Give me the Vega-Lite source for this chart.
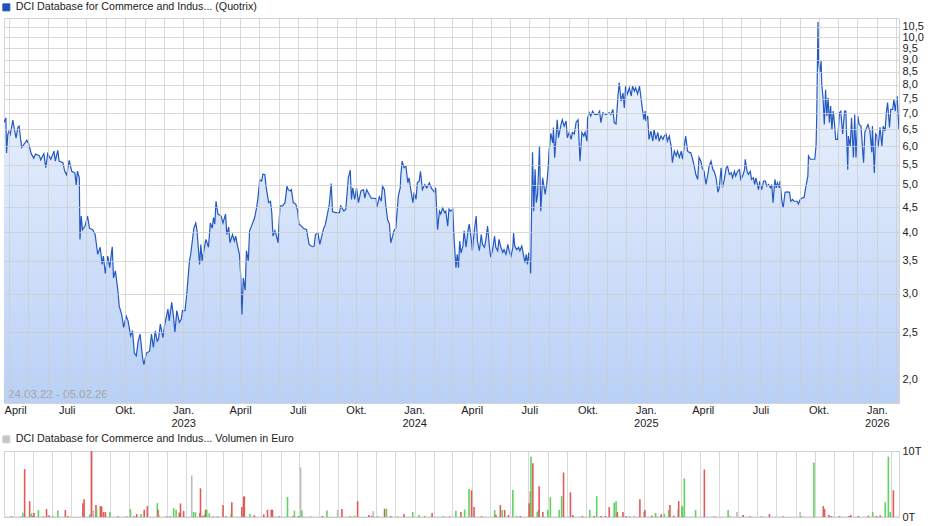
{
  "$schema": "https://vega.github.io/schema/vega-lite/v6.json",
  "padding": {"left": 0, "top": 1, "right": 5, "bottom": 2},
  "bounds": "flush",
  "spacing": 48,
  "config": {
    "font": "Liberation Sans",
    "view": {"stroke": "#d4d4d4"},
    "axis": {"labelFont": "Liberation Sans", "labelFontSize": 11, "labelColor": "#222222", "ticks": false, "domain": false, "gridColor": "#cccccc", "gridOpacity": 0.75, "title": null}
  },
  "resolve": {"scale": {"stroke": "independent", "color": "independent"}, "legend": {"stroke": "independent", "color": "independent"}},
  "datasets": {
    "price": [
      {"date":"2022-03-24","close":6.70},{"date":"2022-03-27","close":6.85},{"date":"2022-03-28","close":5.81},{"date":"2022-03-30","close":6.34},
      {"date":"2022-04-01","close":6.44},{"date":"2022-04-03","close":6.34},{"date":"2022-04-07","close":6.78},{"date":"2022-04-08","close":6.65},
      {"date":"2022-04-12","close":6.23},{"date":"2022-04-15","close":6.56},{"date":"2022-04-17","close":6.59},{"date":"2022-04-19","close":6.24},
      {"date":"2022-04-21","close":5.96},{"date":"2022-04-25","close":6.06},{"date":"2022-04-29","close":6.17},{"date":"2022-05-02","close":6.06},
      {"date":"2022-05-06","close":5.79},{"date":"2022-05-10","close":5.67},{"date":"2022-05-13","close":5.78},{"date":"2022-05-19","close":5.73},
      {"date":"2022-05-21","close":5.62},{"date":"2022-05-26","close":5.79},{"date":"2022-05-29","close":5.42},{"date":"2022-06-01","close":5.79},
      {"date":"2022-06-06","close":5.64},{"date":"2022-06-11","close":5.86},{"date":"2022-06-13","close":5.59},{"date":"2022-06-17","close":5.88},
      {"date":"2022-06-19","close":5.59},{"date":"2022-06-25","close":5.55},{"date":"2022-06-28","close":5.33},{"date":"2022-07-01","close":5.24},
      {"date":"2022-07-05","close":5.61},{"date":"2022-07-09","close":5.33},{"date":"2022-07-14","close":5.29},{"date":"2022-07-16","close":5.00},
      {"date":"2022-07-18","close":5.33},{"date":"2022-07-21","close":5.17},{"date":"2022-07-22","close":3.87},{"date":"2022-07-24","close":4.32},
      {"date":"2022-07-26","close":4.05},{"date":"2022-07-30","close":4.12},{"date":"2022-08-03","close":4.32},{"date":"2022-08-06","close":4.08},
      {"date":"2022-08-11","close":4.05},{"date":"2022-08-15","close":3.96},{"date":"2022-08-19","close":3.61},{"date":"2022-08-23","close":3.73},
      {"date":"2022-08-26","close":3.44},{"date":"2022-08-28","close":3.58},{"date":"2022-08-31","close":3.30},{"date":"2022-09-04","close":3.58},
      {"date":"2022-09-07","close":3.39},{"date":"2022-09-11","close":3.74},{"date":"2022-09-13","close":3.23},{"date":"2022-09-16","close":3.34},
      {"date":"2022-09-20","close":3.04},{"date":"2022-09-22","close":2.83},{"date":"2022-09-26","close":2.72},{"date":"2022-09-29","close":2.56},
      {"date":"2022-10-03","close":2.70},{"date":"2022-10-06","close":2.64},{"date":"2022-10-10","close":2.46},{"date":"2022-10-13","close":2.52},
      {"date":"2022-10-16","close":2.27},{"date":"2022-10-19","close":2.24},{"date":"2022-10-22","close":2.40},{"date":"2022-10-25","close":2.48},
      {"date":"2022-10-29","close":2.22},{"date":"2022-10-31","close":2.15},{"date":"2022-11-04","close":2.27},{"date":"2022-11-09","close":2.29},
      {"date":"2022-11-12","close":2.48},{"date":"2022-11-15","close":2.33},{"date":"2022-11-18","close":2.52},{"date":"2022-11-21","close":2.40},
      {"date":"2022-11-23","close":2.42},{"date":"2022-11-26","close":2.60},{"date":"2022-11-30","close":2.44},{"date":"2022-12-03","close":2.60},
      {"date":"2022-12-08","close":2.79},{"date":"2022-12-10","close":2.64},{"date":"2022-12-14","close":2.88},{"date":"2022-12-17","close":2.68},
      {"date":"2022-12-19","close":2.50},{"date":"2022-12-22","close":2.77},{"date":"2022-12-26","close":2.62},{"date":"2022-12-29","close":2.66},
      {"date":"2022-12-31","close":2.77},{"date":"2023-01-04","close":2.77},{"date":"2023-01-07","close":3.02},{"date":"2023-01-11","close":3.50},
      {"date":"2023-01-13","close":3.61},{"date":"2023-01-18","close":4.08},{"date":"2023-01-21","close":4.18},{"date":"2023-01-23","close":4.03},
      {"date":"2023-01-27","close":3.44},{"date":"2023-01-29","close":3.78},{"date":"2023-01-31","close":3.50},{"date":"2023-02-03","close":3.69},
      {"date":"2023-02-06","close":3.87},{"date":"2023-02-10","close":3.73},{"date":"2023-02-13","close":4.18},{"date":"2023-02-16","close":4.08},
      {"date":"2023-02-18","close":4.29},{"date":"2023-02-20","close":4.16},{"date":"2023-02-22","close":4.63},{"date":"2023-02-25","close":4.36},
      {"date":"2023-03-02","close":4.32},{"date":"2023-03-05","close":4.18},{"date":"2023-03-09","close":4.36},{"date":"2023-03-11","close":3.96},
      {"date":"2023-03-14","close":4.10},{"date":"2023-03-16","close":3.81},{"date":"2023-03-20","close":3.96},{"date":"2023-03-23","close":3.84},
      {"date":"2023-03-25","close":3.93},{"date":"2023-03-28","close":3.75},{"date":"2023-03-31","close":3.61},{"date":"2023-04-02","close":3.26},
      {"date":"2023-04-04","close":2.72},{"date":"2023-04-06","close":3.23},{"date":"2023-04-09","close":3.05},{"date":"2023-04-11","close":3.67},
      {"date":"2023-04-14","close":3.50},{"date":"2023-04-16","close":4.03},{"date":"2023-04-19","close":4.12},{"date":"2023-04-22","close":4.22},
      {"date":"2023-04-24","close":4.29},{"date":"2023-04-27","close":4.49},{"date":"2023-04-29","close":4.67},{"date":"2023-05-02","close":5.12},
      {"date":"2023-05-05","close":5.09},{"date":"2023-05-07","close":5.26},{"date":"2023-05-10","close":5.25},{"date":"2023-05-12","close":4.97},
      {"date":"2023-05-16","close":4.60},{"date":"2023-05-19","close":4.63},{"date":"2023-05-21","close":4.40},{"date":"2023-05-23","close":3.93},
      {"date":"2023-05-26","close":4.03},{"date":"2023-05-29","close":3.91},{"date":"2023-05-31","close":3.81},{"date":"2023-06-03","close":4.53},
      {"date":"2023-06-07","close":4.53},{"date":"2023-06-11","close":4.60},{"date":"2023-06-14","close":4.97},{"date":"2023-06-16","close":4.89},
      {"date":"2023-06-19","close":4.86},{"date":"2023-06-21","close":4.89},{"date":"2023-06-24","close":4.60},{"date":"2023-06-28","close":4.57},
      {"date":"2023-07-01","close":4.42},{"date":"2023-07-03","close":4.16},{"date":"2023-07-07","close":4.12},{"date":"2023-07-10","close":4.08},
      {"date":"2023-07-15","close":4.05},{"date":"2023-07-19","close":3.78},{"date":"2023-07-24","close":3.74},{"date":"2023-07-27","close":3.75},
      {"date":"2023-07-29","close":3.96},{"date":"2023-08-02","close":3.99},{"date":"2023-08-05","close":3.78},{"date":"2023-08-08","close":3.93},
      {"date":"2023-08-11","close":4.08},{"date":"2023-08-13","close":4.12},{"date":"2023-08-16","close":4.29},{"date":"2023-08-20","close":4.57},
      {"date":"2023-08-23","close":5.03},{"date":"2023-08-25","close":4.41},{"date":"2023-08-30","close":4.39},{"date":"2023-09-05","close":4.39},
      {"date":"2023-09-07","close":4.53},{"date":"2023-09-12","close":4.42},{"date":"2023-09-15","close":4.46},{"date":"2023-09-19","close":5.17},
      {"date":"2023-09-22","close":5.36},{"date":"2023-09-24","close":4.67},{"date":"2023-09-26","close":4.93},{"date":"2023-09-29","close":4.67},
      {"date":"2023-10-02","close":4.93},{"date":"2023-10-05","close":4.60},{"date":"2023-10-09","close":4.86},{"date":"2023-10-13","close":4.89},
      {"date":"2023-10-15","close":4.70},{"date":"2023-10-18","close":4.89},{"date":"2023-10-22","close":4.78},{"date":"2023-10-25","close":4.70},
      {"date":"2023-11-02","close":4.69},{"date":"2023-11-03","close":4.50},{"date":"2023-11-07","close":4.73},{"date":"2023-11-10","close":4.63},
      {"date":"2023-11-12","close":4.97},{"date":"2023-11-15","close":4.89},{"date":"2023-11-17","close":4.57},{"date":"2023-11-20","close":4.25},
      {"date":"2023-11-23","close":4.16},{"date":"2023-11-25","close":3.81},{"date":"2023-11-28","close":3.93},{"date":"2023-11-30","close":4.03},
      {"date":"2023-12-03","close":4.08},{"date":"2023-12-07","close":4.75},{"date":"2023-12-10","close":4.93},{"date":"2023-12-11","close":5.24},
      {"date":"2023-12-13","close":5.59},{"date":"2023-12-16","close":5.42},{"date":"2023-12-19","close":5.46},{"date":"2023-12-22","close":5.05},
      {"date":"2023-12-24","close":5.17},{"date":"2023-12-27","close":4.86},{"date":"2023-12-30","close":4.60},{"date":"2024-01-01","close":4.83},
      {"date":"2024-01-04","close":4.67},{"date":"2024-01-06","close":5.05},{"date":"2024-01-09","close":5.09},{"date":"2024-01-11","close":5.33},
      {"date":"2024-01-14","close":4.89},{"date":"2024-01-18","close":5.01},{"date":"2024-01-21","close":4.93},{"date":"2024-01-25","close":5.05},
      {"date":"2024-01-28","close":4.93},{"date":"2024-01-30","close":4.89},{"date":"2024-02-02","close":4.83},{"date":"2024-02-04","close":4.93},
      {"date":"2024-02-07","close":4.05},{"date":"2024-02-10","close":4.42},{"date":"2024-02-12","close":4.36},{"date":"2024-02-15","close":4.49},
      {"date":"2024-02-18","close":4.39},{"date":"2024-02-20","close":4.42},{"date":"2024-02-23","close":4.12},{"date":"2024-02-25","close":4.46},
      {"date":"2024-02-28","close":4.42},{"date":"2024-03-02","close":4.46},{"date":"2024-03-04","close":3.90},{"date":"2024-03-07","close":3.39},
      {"date":"2024-03-09","close":3.61},{"date":"2024-03-11","close":3.39},{"date":"2024-03-13","close":3.84},{"date":"2024-03-15","close":3.63},
      {"date":"2024-03-18","close":3.75},{"date":"2024-03-20","close":4.03},{"date":"2024-03-23","close":3.73},{"date":"2024-03-26","close":4.03},
      {"date":"2024-03-28","close":4.16},{"date":"2024-03-31","close":3.90},{"date":"2024-04-02","close":3.67},{"date":"2024-04-05","close":4.03},
      {"date":"2024-04-08","close":4.32},{"date":"2024-04-10","close":3.84},{"date":"2024-04-13","close":3.67},{"date":"2024-04-16","close":3.96},
      {"date":"2024-04-18","close":3.78},{"date":"2024-04-21","close":3.73},{"date":"2024-04-23","close":3.84},{"date":"2024-04-26","close":4.12},
      {"date":"2024-04-29","close":3.73},{"date":"2024-05-01","close":3.56},{"date":"2024-05-04","close":3.69},{"date":"2024-05-07","close":3.93},
      {"date":"2024-05-09","close":3.73},{"date":"2024-05-12","close":3.67},{"date":"2024-05-14","close":3.87},{"date":"2024-05-17","close":3.73},
      {"date":"2024-05-20","close":3.64},{"date":"2024-05-22","close":3.69},{"date":"2024-05-25","close":3.61},{"date":"2024-05-28","close":3.78},
      {"date":"2024-05-30","close":3.67},{"date":"2024-06-02","close":3.58},{"date":"2024-06-05","close":3.73},{"date":"2024-06-06","close":3.99},
      {"date":"2024-06-08","close":3.75},{"date":"2024-06-11","close":3.69},{"date":"2024-06-14","close":3.73},{"date":"2024-06-16","close":3.67},
      {"date":"2024-06-19","close":3.75},{"date":"2024-06-21","close":3.64},{"date":"2024-06-24","close":3.47},{"date":"2024-06-26","close":3.61},
      {"date":"2024-06-28","close":3.44},{"date":"2024-06-30","close":3.64},{"date":"2024-07-03","close":3.30},{"date":"2024-07-06","close":5.83},
      {"date":"2024-07-08","close":4.42},{"date":"2024-07-10","close":5.38},{"date":"2024-07-12","close":4.60},{"date":"2024-07-14","close":4.78},
      {"date":"2024-07-17","close":6.00},{"date":"2024-07-19","close":4.42},{"date":"2024-07-22","close":5.17},{"date":"2024-07-26","close":4.78},
      {"date":"2024-07-29","close":5.09},{"date":"2024-07-31","close":5.50},{"date":"2024-08-01","close":5.83},{"date":"2024-08-04","close":6.37},
      {"date":"2024-08-07","close":6.09},{"date":"2024-08-08","close":6.55},{"date":"2024-08-10","close":5.68},{"date":"2024-08-14","close":6.79},
      {"date":"2024-08-16","close":6.24},{"date":"2024-08-20","close":6.63},{"date":"2024-08-22","close":6.79},{"date":"2024-08-25","close":6.59},
      {"date":"2024-08-28","close":6.75},{"date":"2024-08-30","close":6.24},{"date":"2024-09-02","close":6.40},{"date":"2024-09-05","close":6.19},
      {"date":"2024-09-07","close":6.40},{"date":"2024-09-10","close":6.35},{"date":"2024-09-13","close":6.72},{"date":"2024-09-16","close":6.79},
      {"date":"2024-09-19","close":5.59},{"date":"2024-09-22","close":6.40},{"date":"2024-09-25","close":6.29},{"date":"2024-09-27","close":6.40},
      {"date":"2024-09-30","close":6.14},{"date":"2024-10-01","close":6.85},{"date":"2024-10-04","close":7.02},{"date":"2024-10-06","close":6.91},
      {"date":"2024-10-09","close":7.07},{"date":"2024-10-12","close":6.96},{"date":"2024-10-17","close":6.96},{"date":"2024-10-20","close":7.07},
      {"date":"2024-10-22","close":6.70},{"date":"2024-10-25","close":7.02},{"date":"2024-10-30","close":6.96},{"date":"2024-11-04","close":7.02},
      {"date":"2024-11-07","close":6.96},{"date":"2024-11-10","close":7.13},{"date":"2024-11-12","close":6.70},{"date":"2024-11-15","close":6.66},
      {"date":"2024-11-18","close":7.59},{"date":"2024-11-20","close":8.09},{"date":"2024-11-23","close":7.41},{"date":"2024-11-26","close":7.70},
      {"date":"2024-11-28","close":7.18},{"date":"2024-11-30","close":7.95},{"date":"2024-12-03","close":7.66},{"date":"2024-12-06","close":7.89},
      {"date":"2024-12-09","close":7.59},{"date":"2024-12-11","close":7.95},{"date":"2024-12-14","close":7.77},{"date":"2024-12-16","close":7.89},
      {"date":"2024-12-19","close":7.66},{"date":"2024-12-22","close":7.95},{"date":"2024-12-24","close":7.59},{"date":"2024-12-26","close":7.24},
      {"date":"2024-12-29","close":6.79},{"date":"2024-12-31","close":7.07},{"date":"2025-01-01","close":6.75},{"date":"2025-01-04","close":6.91},
      {"date":"2025-01-06","close":6.19},{"date":"2025-01-09","close":6.44},{"date":"2025-01-12","close":6.14},{"date":"2025-01-14","close":6.48},
      {"date":"2025-01-17","close":6.19},{"date":"2025-01-20","close":6.40},{"date":"2025-01-22","close":6.14},{"date":"2025-01-25","close":6.29},
      {"date":"2025-01-28","close":6.19},{"date":"2025-01-30","close":6.29},{"date":"2025-02-02","close":6.35},{"date":"2025-02-04","close":6.14},
      {"date":"2025-02-07","close":6.29},{"date":"2025-02-10","close":6.00},{"date":"2025-02-12","close":5.55},{"date":"2025-02-15","close":5.86},
      {"date":"2025-02-18","close":5.73},{"date":"2025-02-20","close":5.86},{"date":"2025-02-23","close":5.69},{"date":"2025-02-26","close":5.86},
      {"date":"2025-02-28","close":5.64},{"date":"2025-03-03","close":6.03},{"date":"2025-03-05","close":6.29},{"date":"2025-03-08","close":5.86},
      {"date":"2025-03-11","close":5.82},{"date":"2025-03-13","close":5.82},{"date":"2025-03-16","close":5.64},{"date":"2025-03-19","close":5.42},
      {"date":"2025-03-21","close":5.25},{"date":"2025-03-24","close":5.13},{"date":"2025-03-26","close":5.69},{"date":"2025-03-29","close":5.59},
      {"date":"2025-03-31","close":5.42},{"date":"2025-04-03","close":5.33},{"date":"2025-04-06","close":5.01},{"date":"2025-04-09","close":5.25},
      {"date":"2025-04-11","close":5.46},{"date":"2025-04-14","close":5.59},{"date":"2025-04-17","close":5.37},{"date":"2025-04-19","close":5.33},
      {"date":"2025-04-22","close":5.17},{"date":"2025-04-25","close":4.83},{"date":"2025-04-27","close":4.93},{"date":"2025-04-30","close":5.42},
      {"date":"2025-05-02","close":4.93},{"date":"2025-05-05","close":5.13},{"date":"2025-05-08","close":5.42},{"date":"2025-05-10","close":5.46},
      {"date":"2025-05-13","close":5.25},{"date":"2025-05-16","close":5.29},{"date":"2025-05-18","close":5.17},{"date":"2025-05-21","close":5.33},
      {"date":"2025-05-23","close":5.21},{"date":"2025-05-26","close":5.33},{"date":"2025-05-29","close":5.37},{"date":"2025-05-31","close":5.13},
      {"date":"2025-06-03","close":5.21},{"date":"2025-06-06","close":5.37},{"date":"2025-06-07","close":5.64},{"date":"2025-06-10","close":5.33},
      {"date":"2025-06-12","close":5.25},{"date":"2025-06-15","close":5.33},{"date":"2025-06-17","close":5.13},{"date":"2025-06-20","close":5.17},
      {"date":"2025-06-22","close":5.01},{"date":"2025-06-24","close":5.17},{"date":"2025-06-28","close":4.89},{"date":"2025-06-30","close":5.09},
      {"date":"2025-07-03","close":4.89},{"date":"2025-07-06","close":5.09},{"date":"2025-07-09","close":5.09},{"date":"2025-07-11","close":4.97},
      {"date":"2025-07-14","close":5.01},{"date":"2025-07-17","close":4.93},{"date":"2025-07-19","close":5.01},{"date":"2025-07-21","close":4.60},
      {"date":"2025-07-24","close":5.13},{"date":"2025-07-26","close":4.93},{"date":"2025-07-28","close":5.05},{"date":"2025-07-31","close":4.93},
      {"date":"2025-08-01","close":5.09},{"date":"2025-08-04","close":4.63},{"date":"2025-08-06","close":4.49},{"date":"2025-08-09","close":4.83},
      {"date":"2025-08-13","close":4.84},{"date":"2025-08-16","close":4.83},{"date":"2025-08-18","close":4.63},{"date":"2025-08-21","close":4.67},
      {"date":"2025-08-23","close":4.63},{"date":"2025-08-28","close":4.63},{"date":"2025-08-30","close":4.57},{"date":"2025-09-02","close":4.67},
      {"date":"2025-09-06","close":4.71},{"date":"2025-09-08","close":4.71},{"date":"2025-09-11","close":4.97},{"date":"2025-09-14","close":5.21},
      {"date":"2025-09-15","close":5.73},{"date":"2025-09-18","close":5.64},{"date":"2025-09-22","close":5.64},{"date":"2025-09-25","close":5.64},
      {"date":"2025-09-27","close":6.03},{"date":"2025-09-28","close":6.85},{"date":"2025-09-30","close":10.74},{"date":"2025-10-01","close":8.91},
      {"date":"2025-10-03","close":8.47},{"date":"2025-10-05","close":8.95},{"date":"2025-10-06","close":8.00},{"date":"2025-10-08","close":7.53},
      {"date":"2025-10-10","close":6.64},{"date":"2025-10-12","close":7.82},{"date":"2025-10-14","close":6.91},{"date":"2025-10-16","close":7.53},
      {"date":"2025-10-18","close":6.70},{"date":"2025-10-20","close":7.24},{"date":"2025-10-22","close":6.48},{"date":"2025-10-24","close":7.07},
      {"date":"2025-10-26","close":6.70},{"date":"2025-10-28","close":6.19},{"date":"2025-10-31","close":6.19},{"date":"2025-11-03","close":7.02},
      {"date":"2025-11-05","close":7.07},{"date":"2025-11-08","close":6.35},{"date":"2025-11-11","close":7.07},{"date":"2025-11-13","close":7.07},
      {"date":"2025-11-16","close":5.37},{"date":"2025-11-17","close":6.29},{"date":"2025-11-20","close":6.00},{"date":"2025-11-22","close":6.85},
      {"date":"2025-11-25","close":5.69},{"date":"2025-11-27","close":6.96},{"date":"2025-11-29","close":5.69},{"date":"2025-12-02","close":6.91},
      {"date":"2025-12-04","close":6.64},{"date":"2025-12-07","close":6.59},{"date":"2025-12-11","close":5.55},{"date":"2025-12-13","close":6.40},
      {"date":"2025-12-16","close":6.55},{"date":"2025-12-18","close":6.64},{"date":"2025-12-21","close":6.44},{"date":"2025-12-24","close":5.83},
      {"date":"2025-12-25","close":6.59},{"date":"2025-12-28","close":5.29},{"date":"2025-12-30","close":6.35},{"date":"2026-01-01","close":6.29},
      {"date":"2026-01-03","close":5.96},{"date":"2026-01-06","close":6.55},{"date":"2026-01-09","close":6.00},{"date":"2026-01-11","close":6.59},
      {"date":"2026-01-14","close":6.44},{"date":"2026-01-16","close":7.02},{"date":"2026-01-18","close":7.36},{"date":"2026-01-21","close":6.55},
      {"date":"2026-01-23","close":7.13},{"date":"2026-01-26","close":7.13},{"date":"2026-01-28","close":7.47},{"date":"2026-01-30","close":7.07},
      {"date":"2026-02-02","close":7.59},{"date":"2026-02-05","close":6.48}
    ],
    "vol": [
      {"date":"2022-03-28","volume":100,"dir":"down"},{"date":"2022-04-12","volume":100,"dir":"up"},{"date":"2022-04-15","volume":650,"dir":"up"},
      {"date":"2022-04-18","volume":7250,"dir":"down"},{"date":"2022-04-26","volume":2400,"dir":"down"},{"date":"2022-04-29","volume":550,"dir":"up"},
      {"date":"2022-05-01","volume":150,"dir":"down"},{"date":"2022-05-03","volume":600,"dir":"down"},{"date":"2022-05-10","volume":1050,"dir":"up"},
      {"date":"2022-05-18","volume":100,"dir":"down"},{"date":"2022-05-23","volume":1200,"dir":"down"},{"date":"2022-05-27","volume":250,"dir":"down"},
      {"date":"2022-06-02","volume":150,"dir":"up"},{"date":"2022-06-10","volume":1000,"dir":"up"},{"date":"2022-06-22","volume":1050,"dir":"down"},
      {"date":"2022-06-26","volume":150,"dir":"down"},{"date":"2022-07-20","volume":2100,"dir":"down"},{"date":"2022-07-22","volume":2700,"dir":"down"},
      {"date":"2022-07-31","volume":400,"dir":"up"},{"date":"2022-08-03","volume":10000,"dir":"down"},{"date":"2022-08-06","volume":1000,"dir":"flat"},
      {"date":"2022-08-10","volume":1800,"dir":"down"},{"date":"2022-08-11","volume":1150,"dir":"up"},{"date":"2022-08-17","volume":1650,"dir":"down"},
      {"date":"2022-08-19","volume":1600,"dir":"down"},{"date":"2022-08-22","volume":750,"dir":"down"},{"date":"2022-08-25","volume":750,"dir":"down"},
      {"date":"2022-09-01","volume":750,"dir":"up"},{"date":"2022-09-14","volume":100,"dir":"down"},{"date":"2022-09-28","volume":150,"dir":"up"},
      {"date":"2022-10-04","volume":1200,"dir":"up"},{"date":"2022-10-10","volume":100,"dir":"down"},{"date":"2022-10-14","volume":450,"dir":"down"},
      {"date":"2022-10-21","volume":450,"dir":"up"},{"date":"2022-10-26","volume":1100,"dir":"down"},{"date":"2022-10-31","volume":1650,"dir":"down"},
      {"date":"2022-11-16","volume":2100,"dir":"up"},{"date":"2022-11-17","volume":1100,"dir":"down"},{"date":"2022-11-19","volume":300,"dir":"flat"},
      {"date":"2022-12-01","volume":150,"dir":"up"},{"date":"2022-12-06","volume":120,"dir":"down"},{"date":"2022-12-12","volume":1350,"dir":"up"},
      {"date":"2022-12-16","volume":1100,"dir":"up"},{"date":"2022-12-21","volume":650,"dir":"down"},{"date":"2022-12-23","volume":2050,"dir":"down"},
      {"date":"2022-12-28","volume":900,"dir":"down"},{"date":"2023-01-10","volume":6300,"dir":"flat"},{"date":"2023-01-13","volume":750,"dir":"up"},
      {"date":"2023-01-16","volume":700,"dir":"up"},{"date":"2023-01-23","volume":600,"dir":"down"},{"date":"2023-01-24","volume":4350,"dir":"down"},
      {"date":"2023-01-27","volume":150,"dir":"down"},{"date":"2023-01-30","volume":350,"dir":"up"},{"date":"2023-02-01","volume":1100,"dir":"down"},
      {"date":"2023-02-03","volume":1100,"dir":"up"},{"date":"2023-02-07","volume":550,"dir":"up"},{"date":"2023-02-13","volume":150,"dir":"up"},
      {"date":"2023-02-20","volume":100,"dir":"down"},{"date":"2023-03-01","volume":1800,"dir":"down"},{"date":"2023-03-06","volume":150,"dir":"up"},
      {"date":"2023-03-14","volume":500,"dir":"up"},{"date":"2023-03-15","volume":2250,"dir":"down"},{"date":"2023-03-31","volume":1500,"dir":"down"},
      {"date":"2023-04-03","volume":3050,"dir":"down"},{"date":"2023-04-04","volume":3150,"dir":"down"},{"date":"2023-04-13","volume":450,"dir":"up"},
      {"date":"2023-04-20","volume":250,"dir":"down"},{"date":"2023-05-05","volume":400,"dir":"down"},{"date":"2023-05-11","volume":1100,"dir":"down"},
      {"date":"2023-05-17","volume":1100,"dir":"down"},{"date":"2023-05-19","volume":1100,"dir":"down"},{"date":"2023-05-24","volume":50,"dir":"up"},
      {"date":"2023-05-30","volume":120,"dir":"down"},{"date":"2023-06-12","volume":3050,"dir":"up"},{"date":"2023-06-21","volume":150,"dir":"down"},
      {"date":"2023-06-23","volume":950,"dir":"up"},{"date":"2023-06-30","volume":150,"dir":"down"},{"date":"2023-07-03","volume":7500,"dir":"flat"},
      {"date":"2023-07-05","volume":1000,"dir":"up"},{"date":"2023-07-19","volume":50,"dir":"down"},{"date":"2023-08-07","volume":150,"dir":"down"},
      {"date":"2023-08-14","volume":1000,"dir":"up"},{"date":"2023-08-31","volume":1050,"dir":"flat"},{"date":"2023-09-07","volume":1200,"dir":"down"},
      {"date":"2023-09-20","volume":100,"dir":"down"},{"date":"2023-09-27","volume":200,"dir":"up"},{"date":"2023-10-02","volume":2400,"dir":"down"},
      {"date":"2023-10-20","volume":300,"dir":"down"},{"date":"2023-10-25","volume":200,"dir":"down"},{"date":"2023-10-27","volume":900,"dir":"flat"},
      {"date":"2023-11-03","volume":150,"dir":"up"},{"date":"2023-11-14","volume":1250,"dir":"down"},{"date":"2023-11-17","volume":1250,"dir":"up"},
      {"date":"2023-11-24","volume":150,"dir":"down"},{"date":"2023-12-05","volume":100,"dir":"up"},{"date":"2023-12-15","volume":450,"dir":"down"},
      {"date":"2023-12-29","volume":750,"dir":"up"},{"date":"2024-01-08","volume":300,"dir":"up"},{"date":"2024-01-17","volume":120,"dir":"down"},
      {"date":"2024-01-29","volume":600,"dir":"down"},{"date":"2024-02-16","volume":150,"dir":"up"},{"date":"2024-02-26","volume":100,"dir":"down"},
      {"date":"2024-03-07","volume":950,"dir":"up"},{"date":"2024-03-15","volume":750,"dir":"down"},{"date":"2024-03-21","volume":1150,"dir":"up"},
      {"date":"2024-03-28","volume":4250,"dir":"up"},{"date":"2024-04-01","volume":4050,"dir":"down"},{"date":"2024-04-05","volume":1500,"dir":"down"},
      {"date":"2024-04-17","volume":120,"dir":"down"},{"date":"2024-05-08","volume":1050,"dir":"up"},{"date":"2024-05-10","volume":350,"dir":"down"},
      {"date":"2024-05-17","volume":1800,"dir":"down"},{"date":"2024-05-20","volume":1050,"dir":"up"},{"date":"2024-05-24","volume":1050,"dir":"down"},
      {"date":"2024-05-30","volume":300,"dir":"down"},{"date":"2024-06-06","volume":4100,"dir":"up"},{"date":"2024-06-12","volume":150,"dir":"up"},
      {"date":"2024-06-18","volume":150,"dir":"down"},{"date":"2024-07-02","volume":2100,"dir":"down"},{"date":"2024-07-04","volume":3900,"dir":"down"},
      {"date":"2024-07-05","volume":9150,"dir":"up"},{"date":"2024-07-08","volume":8150,"dir":"down"},{"date":"2024-07-15","volume":800,"dir":"up"},
      {"date":"2024-07-17","volume":1050,"dir":"up"},{"date":"2024-07-18","volume":4650,"dir":"down"},{"date":"2024-07-24","volume":750,"dir":"down"},
      {"date":"2024-08-01","volume":1050,"dir":"up"},{"date":"2024-08-05","volume":3000,"dir":"up"},{"date":"2024-08-19","volume":1100,"dir":"up"},
      {"date":"2024-08-23","volume":3150,"dir":"up"},{"date":"2024-08-26","volume":6750,"dir":"down"},{"date":"2024-09-06","volume":3750,"dir":"down"},
      {"date":"2024-09-10","volume":300,"dir":"down"},{"date":"2024-09-25","volume":150,"dir":"down"},{"date":"2024-10-07","volume":1050,"dir":"up"},
      {"date":"2024-10-14","volume":150,"dir":"down"},{"date":"2024-10-18","volume":3150,"dir":"up"},{"date":"2024-10-25","volume":150,"dir":"down"},
      {"date":"2024-11-01","volume":150,"dir":"down"},{"date":"2024-11-07","volume":1500,"dir":"down"},{"date":"2024-11-15","volume":2150,"dir":"up"},
      {"date":"2024-11-18","volume":2400,"dir":"up"},{"date":"2024-11-20","volume":750,"dir":"down"},{"date":"2024-11-29","volume":750,"dir":"down"},
      {"date":"2024-12-04","volume":150,"dir":"down"},{"date":"2024-12-09","volume":150,"dir":"flat"},{"date":"2024-12-17","volume":200,"dir":"flat"},
      {"date":"2024-12-26","volume":2700,"dir":"down"},{"date":"2025-01-02","volume":750,"dir":"down"},{"date":"2025-01-03","volume":1050,"dir":"down"},
      {"date":"2025-01-14","volume":200,"dir":"down"},{"date":"2025-01-20","volume":600,"dir":"up"},{"date":"2025-01-23","volume":100,"dir":"up"},
      {"date":"2025-01-29","volume":400,"dir":"down"},{"date":"2025-02-03","volume":500,"dir":"up"},{"date":"2025-02-10","volume":1050,"dir":"up"},
      {"date":"2025-02-12","volume":1800,"dir":"down"},{"date":"2025-02-18","volume":200,"dir":"down"},{"date":"2025-02-25","volume":1200,"dir":"flat"},
      {"date":"2025-02-26","volume":2400,"dir":"down"},{"date":"2025-03-03","volume":1700,"dir":"up"},{"date":"2025-03-04","volume":1500,"dir":"up"},
      {"date":"2025-03-07","volume":5850,"dir":"up"},{"date":"2025-03-25","volume":1050,"dir":"up"},{"date":"2025-04-08","volume":7200,"dir":"down"},
      {"date":"2025-04-24","volume":100,"dir":"down"},{"date":"2025-05-16","volume":1050,"dir":"up"},{"date":"2025-05-19","volume":200,"dir":"flat"},
      {"date":"2025-05-30","volume":750,"dir":"flat"},{"date":"2025-06-09","volume":300,"dir":"down"},{"date":"2025-06-20","volume":100,"dir":"down"},
      {"date":"2025-07-08","volume":100,"dir":"down"},{"date":"2025-07-21","volume":450,"dir":"down"},{"date":"2025-08-12","volume":100,"dir":"down"},
      {"date":"2025-09-08","volume":750,"dir":"flat"},{"date":"2025-09-10","volume":150,"dir":"up"},{"date":"2025-09-30","volume":8250,"dir":"up"},
      {"date":"2025-10-15","volume":1650,"dir":"down"},{"date":"2025-10-17","volume":1250,"dir":"down"},{"date":"2025-10-24","volume":300,"dir":"down"},
      {"date":"2025-10-28","volume":150,"dir":"down"},{"date":"2025-11-10","volume":150,"dir":"down"},{"date":"2025-11-25","volume":150,"dir":"down"},
      {"date":"2025-11-28","volume":300,"dir":"down"},{"date":"2025-12-10","volume":150,"dir":"down"},{"date":"2025-12-26","volume":200,"dir":"down"},
      {"date":"2026-01-02","volume":750,"dir":"up"},{"date":"2026-01-08","volume":150,"dir":"down"},{"date":"2026-01-14","volume":250,"dir":"down"},
      {"date":"2026-01-22","volume":2250,"dir":"up"},{"date":"2026-01-27","volume":9150,"dir":"up"},{"date":"2026-01-30","volume":750,"dir":"up"},
      {"date":"2026-02-04","volume":4050,"dir":"down"}
    ]
  },
  "vconcat": [
    {
      "width": 895,
      "height": 385,
      "layer": [
        {
          "data": {"name": "price"},
          "mark": {"type": "area", "clip": true, "fill": {"gradient": "linear", "x1": 0, "y1": 0, "x2": 0, "y2": 1, "stops": [{"offset": 0, "color": "#f3f7ff"}, {"offset": 1, "color": "#b9d0f6"}]}},
          "encoding": {
            "x": {
              "field": "date", "type": "temporal",
              "scale": {"type": "utc", "domain": [{"year": 2022, "month": 3, "date": 24, "utc": true}, {"year": 2026, "month": 2, "date": 5, "utc": true}]},
              "axis": {
                "tickCount": {"interval": "month", "step": 1},
                "grid": true, "zindex": 1, "labelOverlap": false, "labelBound": false, "labelFlush": false,
                "labelPadding": 1, "labelLineHeight": 13, "labelBaseline": "top",
                "labelExpr": "utcmonth(datum.value) == 0 ? ['Jan.', '' + utcyear(datum.value)] : utcmonth(datum.value) == 3 ? 'April' : utcmonth(datum.value) == 6 ? 'Juli' : utcmonth(datum.value) == 9 ? 'Okt.' : ''",
                "labelAlign": {"condition": {"test": "datum.value < utc(2022, 4, 1)", "value": "left"}, "value": "center"},
                "labelOffset": {"condition": {"test": "datum.value < utc(2022, 4, 1)", "value": -5}, "value": 0}
              }
            },
            "y": {
              "field": "close", "type": "quantitative",
              "scale": {"type": "log", "domain": [1.795, 10.95], "nice": false},
              "axis": {
                "orient": "right", "grid": true, "zindex": 1, "labelOverlap": false, "labelPadding": 3,
                "values": [2, 2.5, 3, 3.5, 4, 4.5, 5, 5.5, 6, 6.5, 7, 7.5, 8, 8.5, 9, 9.5, 10, 10.5],
                "labelExpr": "replace(format(datum.value, '.1f'), '.', ',')"
              }
            },
            "y2": {"datum": 1.795}
          }
        },
        {
          "data": {"name": "price"},
          "mark": {"type": "line", "strokeWidth": 1.2, "clip": true},
          "encoding": {
            "x": {"field": "date", "type": "temporal"},
            "y": {"field": "close", "type": "quantitative"},
            "stroke": {
              "datum": "DCI Database for Commerce and Indus... (Quotrix)",
              "scale": {"range": ["#2459c4"]},
              "legend": {
                "orient": "none", "legendX": -3, "legendY": -16, "title": null, "padding": 0,
                "symbolType": "square", "symbolSize": 49, "labelFontSize": 10.7, "labelFont": "Liberation Sans", "labelColor": "#222222", "labelOffset": 4, "labelLimit": 500,
                "encode": {"symbols": {"update": {"fill": {"value": "#1f4fb8"}, "stroke": {"value": "#333333"}, "strokeWidth": {"value": 1}, "opacity": {"value": 1}}}}
              }
            }
          }
        },
        {
          "data": {"values": [{"label": "24.03.22 - 05.02.26"}]},
          "mark": {"type": "text", "align": "left", "baseline": "middle", "dx": 4, "fontSize": 11.5, "color": "#a3a3a3"},
          "encoding": {
            "x": {"datum": {"year": 2022, "month": 3, "date": 24, "utc": true}, "type": "temporal"},
            "y": {"datum": 1.865, "type": "quantitative"},
            "text": {"field": "label"}
          }
        }
      ]
    },
    {
      "width": 895,
      "height": 66,
      "layer": [
        {
          "data": {"values": [{"label": "v"}]},
          "mark": {"type": "rule", "strokeWidth": 1},
          "encoding": {
            "y": {"datum": 0, "type": "quantitative"},
            "stroke": {
              "datum": "DCI Database for Commerce and Indus... Volumen in Euro",
              "scale": {"range": ["#d0d0d0"]},
              "legend": {
                "orient": "none", "legendX": -3, "legendY": -17, "title": null, "padding": 0,
                "symbolType": "square", "symbolSize": 49, "labelFontSize": 10.7, "labelFont": "Liberation Sans", "labelColor": "#222222", "labelOffset": 4, "labelLimit": 500,
                "encode": {"symbols": {"update": {"fill": {"value": "#c4c4c4"}, "stroke": {"value": "#444444"}, "strokeWidth": {"value": 1}, "opacity": {"value": 1}}}}
              }
            }
          }
        },
        {
          "data": {"name": "vol"},
          "mark": {"type": "bar", "size": 1.6, "clip": true},
          "encoding": {
            "x": {
              "field": "date", "type": "temporal",
              "scale": {"type": "utc", "domain": [{"year": 2022, "month": 3, "date": 24, "utc": true}, {"year": 2026, "month": 2, "date": 5, "utc": true}]},
              "axis": {"tickCount": {"interval": "month", "step": 1}, "grid": true, "labels": false}
            },
            "y": {
              "field": "volume", "type": "quantitative",
              "scale": {"domain": [0, 10000], "nice": false},
              "axis": {"orient": "right", "grid": true, "values": [0, 5000, 10000], "labelPadding": 3, "labelExpr": "(datum.value / 1000) + 'T'"}
            },
            "color": {
              "field": "dir", "type": "nominal",
              "scale": {"domain": ["up", "down", "flat"], "range": ["#5fd35f", "#e25b5b", "#bdbdbd"]},
              "legend": null
            }
          }
        }
      ]
    }
  ]
}
